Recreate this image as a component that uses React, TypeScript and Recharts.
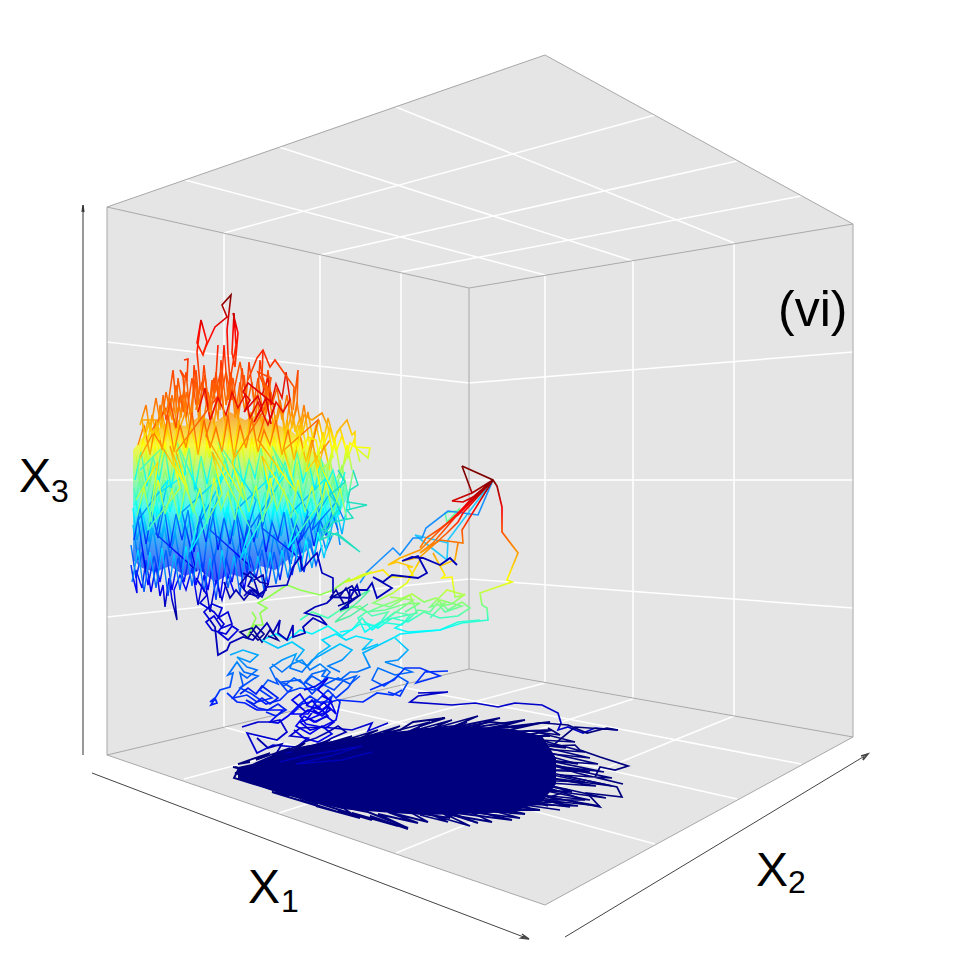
import React from "react";
import { ComposedChart, Area, Line, XAxis, YAxis } from "recharts";

const panelX = [107, 469, 545, 853];
const roofBand = [[207, 207], [81, 288], [55, 275], [224, 224]];
const leftWallBand = [[207, 755], [288, 669]];
const rightWallBand = [[288, 669], [275, 683], [224, 737]];
const floorBand = [[755, 755], [669, 879], [683, 905], [737, 737]];

const gridLines = [
  [224, 233, 224, 727], [320, 255, 320, 705], [401, 272, 401, 687],
  [545, 275, 545, 683], [633, 261, 633, 699], [734, 243, 734, 716],
  [107, 342, 469, 383], [107, 480, 469, 480], [107, 617, 469, 579],
  [469, 383, 853, 352], [469, 480, 853, 480], [469, 579, 853, 608],
  [185, 180, 545, 275], [279, 147, 633, 261], [396, 107, 734, 243],
  [224, 233, 655, 115], [320, 255, 737, 161], [401, 272, 801, 196],
  [224, 727, 655, 844], [320, 705, 737, 799], [401, 687, 801, 764],
  [184, 779, 545, 683], [279, 813, 633, 699], [396, 853, 734, 716],
];

const boxEdges = [
  [107, 207, 545, 55, 853, 224, 469, 288, 107, 207, 107, 755, 545, 905, 853, 737, 853, 224],
  [469, 288, 469, 669, 107, 755],
  [469, 669, 853, 737],
];

const axisX1 = [92, 773, 529, 939];
const axisX2 = [565, 937, 868, 754];
const axisX3 = [83, 755, 83, 205];
const headX1 = [522, 934, 529, 939, 521, 938, 525, 936];
const headX2 = [861, 756, 868, 754, 863, 760, 864, 757];
const headX3 = [82, 212, 83, 205, 84, 212, 83, 210];

const cloudX = [133, 142, 155, 170, 185, 200, 215, 230, 245, 260, 275, 290, 305, 320, 335, 348];
const cloudTop = [450, 438, 430, 422, 426, 416, 422, 412, 420, 414, 424, 430, 442, 458, 476, 492];
const cloudBottom = [560, 568, 572, 566, 576, 570, 582, 574, 578, 566, 570, 558, 552, 540, 522, 496];

const blobX = [238, 252, 270, 305, 342, 392, 425, 465, 512, 542, 556];
const blobTop = [767, 764, 756, 746, 741, 732, 729, 726, 729, 736, 758];
const blobBottom = [777, 783, 790, 800, 809, 813, 815, 814, 812, 802, 784];

const cloudPeakA = [203, 353, 215, 327, 227, 317, 222, 305, 231, 295, 227, 330, 228, 355, 230, 380, 226, 405];
const cloudPeakB = [233, 313, 238, 333, 235, 367, 232, 353, 234, 313, 236, 345, 231, 375, 229, 398];
const cloudPeakC = [201, 320, 207, 342, 203, 355, 197, 343, 201, 320, 197, 352, 200, 385, 196, 410];
const cloudPeakD = [184, 360, 188, 359, 187, 380, 180, 370, 183, 377, 186, 410, 181, 425];
const cloudPeakE = [218, 345, 215, 393, 212, 380, 209, 412, 221, 372, 224, 418];
const cloudPeakF = [248, 380, 257, 358, 263, 350, 270, 367, 275, 360, 294, 387, 293, 410, 298, 370, 297, 407, 290, 432];
const cloudPeakG = [263, 350, 262, 375, 268, 395, 258, 372, 271, 378, 265, 415];
const cloudPeakH = [160, 440, 156, 420, 142, 420, 145, 437, 149, 423, 153, 433, 160, 420, 163, 397, 165, 415, 168, 405, 173, 370, 177, 413, 182, 395, 188, 430];
const cloudPeakI = [270, 420, 275, 405, 248, 383, 243, 392, 250, 400, 244, 412, 258, 396, 262, 408, 254, 422, 266, 398, 271, 424];
const cloudPeakJ = [297, 450, 304, 415, 312, 420, 322, 413, 328, 427, 333, 457, 322, 470, 316, 440, 308, 437, 300, 460];
const cloudPeakK = [327, 470, 337, 432, 347, 420, 352, 435, 355, 432, 355, 447, 370, 448, 368, 458, 350, 443, 345, 462, 337, 478];

const cloudRows = [
  [140, 425, 146, 405, 150, 432, 156, 398, 161, 428, 166, 392, 172, 420, 176, 385, 181, 418, 186, 372, 190, 415, 195, 380, 199, 422, 204, 365, 209, 410, 213, 385, 218, 420, 221, 360, 226, 405, 231, 372, 235, 418, 240, 382, 245, 412, 249, 362, 254, 402, 258, 378, 263, 415, 268, 370, 272, 405, 277, 388, 282, 420, 287, 395, 292, 428, 297, 402, 302, 435, 308, 412, 313, 440, 319, 420, 324, 445, 330, 428, 336, 452, 342, 436, 348, 458, 354, 440, 360, 462],
  [352, 470, 347, 445, 341, 478, 335, 440, 329, 470, 323, 432, 317, 462, 311, 438, 305, 470, 299, 425, 293, 455, 287, 420, 281, 458, 275, 415, 269, 450, 263, 425, 257, 455, 251, 412, 245, 448, 239, 420, 233, 455, 227, 418, 221, 448, 215, 425, 209, 458, 203, 416, 197, 450, 191, 428, 185, 455, 179, 420, 173, 450, 167, 428, 161, 458, 155, 432, 149, 462, 143, 440, 137, 470],
  [136, 455, 141, 490, 146, 450, 150, 485, 155, 445, 160, 478, 165, 442, 170, 482, 176, 440, 181, 475, 186, 438, 192, 480, 197, 442, 203, 472, 208, 436, 214, 478, 219, 445, 225, 470, 230, 434, 236, 482, 241, 442, 247, 475, 252, 438, 258, 480, 263, 445, 269, 472, 274, 436, 280, 478, 285, 448, 291, 470, 296, 440, 302, 482, 307, 452, 313, 476, 318, 450, 324, 488, 330, 460, 336, 492, 342, 465, 348, 498, 353, 472],
  [350, 510, 345, 480, 339, 515, 333, 478, 327, 505, 321, 468, 315, 500, 309, 470, 303, 498, 297, 462, 291, 496, 285, 466, 279, 500, 273, 458, 267, 492, 261, 466, 255, 498, 249, 460, 243, 492, 237, 468, 231, 500, 225, 458, 219, 490, 213, 466, 207, 498, 201, 460, 195, 492, 189, 468, 183, 500, 177, 462, 171, 492, 165, 470, 159, 502, 153, 465, 147, 498, 141, 472, 135, 505],
  [134, 488, 139, 520, 144, 482, 149, 515, 154, 484, 159, 518, 165, 480, 170, 512, 176, 486, 181, 522, 187, 478, 192, 515, 198, 488, 204, 520, 209, 480, 215, 512, 220, 490, 226, 525, 231, 482, 237, 516, 243, 490, 248, 522, 254, 484, 260, 514, 265, 492, 271, 526, 276, 486, 282, 516, 288, 494, 294, 528, 299, 490, 305, 518, 311, 498, 317, 530, 323, 496, 329, 524, 335, 504, 342, 534, 348, 500],
  [340, 545, 335, 512, 329, 540, 323, 508, 317, 542, 311, 512, 305, 538, 299, 505, 293, 544, 287, 510, 281, 536, 275, 504, 269, 542, 263, 512, 257, 538, 251, 502, 245, 544, 239, 510, 233, 536, 227, 506, 221, 542, 215, 512, 209, 538, 203, 504, 197, 545, 191, 514, 185, 538, 179, 508, 173, 544, 167, 512, 161, 538, 155, 506, 149, 542, 143, 514, 137, 540, 133, 508],
  [133, 525, 138, 560, 143, 522, 148, 555, 153, 528, 159, 566, 164, 525, 170, 556, 175, 532, 181, 568, 186, 528, 192, 558, 197, 534, 203, 572, 208, 528, 214, 560, 219, 536, 225, 570, 230, 530, 236, 558, 241, 538, 247, 572, 252, 532, 258, 556, 263, 540, 269, 566, 274, 534, 280, 554, 285, 542, 291, 564, 296, 530, 302, 552, 308, 538, 314, 558, 320, 528, 326, 550, 332, 536],
  [322, 545, 316, 565, 310, 540, 304, 572, 298, 548, 292, 575, 286, 545, 280, 580, 274, 552, 268, 585, 262, 550, 256, 578, 250, 556, 244, 590, 238, 552, 232, 582, 226, 558, 220, 598, 214, 555, 208, 590, 202, 562, 196, 585, 190, 552, 184, 582, 178, 558, 172, 590, 166, 550, 160, 582, 154, 556, 148, 585, 142, 552, 136, 578, 131, 545],
  [131, 565, 133, 577, 137, 593, 136, 570, 142, 588, 146, 560, 151, 592, 156, 565, 160, 596, 163, 585, 165, 607, 169, 578, 172, 600, 177, 620, 174, 590, 180, 575, 186, 590, 192, 568, 198, 605, 204, 575, 210, 612, 216, 580, 222, 600, 228, 575, 234, 592],
  [148, 440, 152, 415, 157, 438, 160, 405, 166, 430, 170, 398, 175, 430, 178, 378, 183, 412, 187, 392, 192, 425, 194, 365, 199, 405, 205, 375, 210, 420, 216, 372, 220, 410, 224, 345, 228, 400, 233, 378, 238, 415, 242, 368, 247, 405, 252, 382, 256, 420, 260, 360, 266, 410, 271, 392, 276, 425, 281, 405, 285, 438, 290, 398, 295, 432, 300, 418, 306, 445],
  [345, 445, 340, 428, 334, 440, 328, 418, 322, 450, 316, 425, 310, 448, 304, 405, 298, 440, 292, 412, 286, 435, 280, 400, 274, 432, 268, 385, 262, 425, 256, 395, 250, 428, 244, 375, 238, 420, 232, 388, 226, 430, 220, 378, 214, 425, 208, 392, 202, 432, 196, 370, 190, 428, 184, 388, 178, 432, 172, 395, 166, 438, 160, 412, 154, 442, 148, 420, 142, 445],
];

// same kind of strokes, coloured a little off their height
const cloudMixHigh = [
  [135, 480, 141, 452, 147, 486, 153, 456, 159, 482, 165, 450, 171, 488, 177, 454, 183, 480, 189, 448, 195, 490, 201, 456, 207, 484, 213, 452, 219, 488, 225, 458, 231, 482, 237, 450, 243, 486, 249, 460, 255, 478, 261, 448, 267, 490, 273, 456, 279, 480, 285, 462, 291, 488, 297, 452, 303, 482, 309, 464, 315, 490, 321, 458, 327, 484, 333, 470, 339, 492, 345, 472],
  [134, 540, 140, 508, 146, 544, 152, 512, 158, 538, 164, 506, 170, 548, 176, 514, 182, 540, 188, 510, 194, 552, 200, 516, 206, 542, 212, 508, 218, 550, 224, 518, 230, 544, 236, 512, 242, 556, 248, 520, 254, 542, 260, 514, 266, 552, 272, 522, 278, 540, 284, 512, 290, 550, 296, 524, 302, 538, 308, 516, 314, 546, 320, 520, 326, 535, 332, 512, 338, 530],
  [140, 470, 162, 448, 152, 498, 186, 474, 176, 440, 204, 505, 196, 530, 228, 468, 218, 442, 256, 500, 246, 535, 284, 476, 272, 446, 308, 512, 298, 544, 332, 490, 320, 466, 344, 520],
  [338, 500, 312, 530, 326, 478, 290, 514, 302, 560, 262, 528, 276, 472, 236, 510, 250, 566, 210, 530, 222, 476, 182, 512, 196, 570, 156, 534, 168, 480, 138, 520, 146, 572],
];
const cloudMixLow = [
  [347, 520, 340, 488, 333, 515, 326, 482, 319, 520, 312, 486, 305, 512, 298, 480, 291, 518, 284, 490, 277, 510, 270, 478, 263, 522, 256, 486, 249, 512, 242, 482, 235, 520, 228, 492, 221, 510, 214, 478, 207, 524, 200, 488, 193, 512, 186, 484, 179, 520, 172, 490, 165, 514, 158, 480, 151, 522, 144, 488, 137, 516],
  [330, 530, 324, 558, 318, 532, 312, 568, 306, 540, 300, 572, 294, 544, 288, 578, 282, 550, 276, 584, 270, 552, 264, 590, 258, 556, 252, 582, 246, 548, 240, 594, 234, 556, 228, 588, 222, 550, 216, 600, 210, 558, 204, 592, 198, 552, 192, 586, 186, 546, 180, 590, 174, 554, 168, 596, 162, 548, 156, 588, 150, 552, 144, 592, 138, 550, 132, 582],
  [138, 445, 144, 425, 150, 455, 156, 420, 162, 450, 168, 415, 174, 452, 180, 425, 186, 448, 192, 412, 198, 455, 204, 420, 210, 448, 216, 428, 222, 452, 228, 415, 234, 458, 240, 425, 246, 448, 252, 418, 258, 452, 264, 430, 270, 445, 276, 420, 282, 455, 288, 430, 294, 460, 300, 435, 306, 462, 312, 440, 318, 468, 324, 446, 330, 470],
  [136, 500, 158, 462, 148, 530, 180, 488, 170, 446, 198, 520, 190, 552, 222, 494, 212, 452, 250, 528, 240, 560, 272, 500, 262, 456, 298, 516, 288, 548, 322, 500, 314, 452, 340, 506],
  [330, 440, 306, 472, 318, 420, 284, 450, 296, 492, 258, 440, 270, 400, 232, 462, 244, 500, 206, 436, 218, 396, 176, 452, 188, 490, 152, 430, 166, 408, 140, 458],
];
const cloudHotA = [262, 395, 268, 378, 271, 405, 276, 384, 282, 398, 286, 372, 290, 400, 283, 412, 276, 402, 268, 425, 258, 402, 250, 418, 245, 395, 238, 408, 232, 392, 226, 415, 218, 398, 210, 420, 205, 388, 198, 412];
const cloudHotB = [163, 395, 166, 420, 170, 402, 176, 428, 180, 396, 186, 418, 192, 378, 196, 405, 202, 382, 208, 410, 214, 378, 220, 402, 226, 372, 232, 400, 240, 362, 246, 396];

const cloudLooseRight = [353, 470, 358, 485, 350, 490, 347, 502, 367, 505, 347, 510, 353, 518, 333, 522, 320, 540, 337, 533, 360, 552, 337, 535, 322, 530, 340, 508, 330, 495, 345, 482, 338, 470];

const deepTangleA = [210, 620, 204, 612, 212, 604, 222, 608, 218, 618, 228, 612, 232, 624, 222, 628, 214, 616, 206, 622, 212, 630, 226, 634, 232, 626, 238, 630, 228, 640, 218, 632, 224, 624, 214, 612, 200, 603, 207, 595, 196, 578];
const deepTangleB = [243, 573, 252, 578, 248, 586, 258, 592, 254, 580, 263, 575, 266, 590, 256, 596, 246, 592, 240, 584, 250, 572, 260, 582, 268, 584, 262, 597, 252, 590, 244, 600, 236, 590, 230, 598, 224, 582];

const darkTrail = [457, 565, 450, 558, 440, 565, 423, 558, 412, 557, 402, 561, 418, 556, 427, 573, 418, 578, 392, 575, 383, 582, 373, 577, 392, 588, 377, 598, 372, 583, 367, 590, 350, 590, 348, 607, 340, 610, 360, 595, 357, 585, 350, 598, 333, 597, 327, 603, 315, 607, 305, 613, 320, 617, 327, 625, 313, 618, 303, 627, 305, 633, 293, 637, 293, 625, 287, 640, 278, 633, 280, 620, 273, 633, 267, 623, 253, 640, 243, 637, 230, 643, 227, 650, 218, 655, 215, 627, 210, 620];
const darkKnotA = [340, 596, 346, 588, 352, 600, 344, 604, 336, 590, 330, 598, 342, 592, 352, 586, 358, 596, 348, 602, 338, 606];
const darkKnotB = [250, 632, 258, 640, 264, 634, 256, 626, 248, 638, 240, 632, 252, 628, 262, 642, 270, 630, 278, 640, 268, 636];
const blueClimb = [333, 593, 333, 578, 322, 573, 317, 553, 312, 558, 302, 570, 300, 557, 293, 567, 287, 585, 267, 587, 258, 598, 250, 590, 244, 596];

const greenTrail = [350, 578, 333, 590, 320, 595, 300, 590, 287, 585, 267, 598, 258, 603, 267, 608, 260, 613, 263, 625, 254, 625, 247, 637, 256, 618, 252, 612];
const yellowStub = [350, 581, 362, 575, 372, 572, 358, 578, 345, 582];
const greenRight = [345, 605, 355, 598, 370, 590, 358, 602, 346, 612, 335, 622, 350, 616, 368, 604];

const branchMain = [462, 466, 493, 480, 497, 486, 502, 507, 502, 532, 518, 553, 507, 580, 512, 582, 480, 593, 482, 605, 487, 608, 488, 620, 462, 623, 440, 630, 400, 634, 395, 637, 373, 648, 363, 653, 370, 667, 357, 672, 350, 672, 340, 680, 322, 676, 326, 670, 312, 674, 305, 682, 318, 690];
const branchRedA = [462, 466, 472, 493, 493, 480, 472, 493, 452, 501, 463, 502, 473, 497, 493, 480, 463, 513, 458, 522, 447, 533, 420, 557, 403, 561];
const branchRedB = [493, 480, 462, 530, 463, 543, 440, 540, 420, 553, 433, 543, 470, 500, 493, 480, 458, 515, 441, 528, 426, 538, 420, 548];
const branchOrange = [458, 543, 455, 560, 440, 566, 433, 553, 445, 575, 442, 578, 452, 577, 455, 597, 465, 595, 447, 590, 430, 607, 445, 603, 430, 618];
const branchYellow = [420, 560, 407, 583, 393, 593, 373, 603, 390, 607, 410, 595, 417, 613, 385, 620, 413, 600, 390, 597];
const branchOrangeLeft = [493, 480, 440, 530, 420, 550, 400, 558, 388, 565, 397, 562, 413, 567, 408, 567, 413, 575, 407, 577, 390, 577, 383, 570, 375, 572, 362, 575];
const branchLightBlue = [493, 480, 478, 515, 448, 511, 426, 528, 422, 538, 413, 538, 400, 555, 393, 548, 367, 572, 360, 583];
const branchCyan = [493, 480, 448, 540, 447, 560, 415, 535, 448, 543];
const branchGreen = [493, 480, 462, 510, 445, 513, 447, 522, 460, 508];

const branchTealA = [340, 632, 352, 630, 362, 618, 372, 630, 385, 620, 395, 612, 410, 615, 402, 625, 380, 622, 365, 632, 358, 618, 366, 612, 385, 610, 405, 604, 420, 603, 405, 612];
const branchTealB = [465, 594, 452, 604, 440, 606, 445, 612, 462, 606, 440, 600, 430, 612, 418, 610, 408, 620, 395, 628, 408, 632, 440, 630, 458, 622, 480, 620];
const branchTealC = [300, 620, 312, 612, 328, 618, 340, 610, 360, 606, 372, 616, 388, 612, 378, 626, 360, 624, 342, 636, 328, 626, 312, 634, 300, 630, 288, 640, 276, 634, 262, 640];
const branchTealD = [340, 612, 352, 606, 368, 612, 382, 606, 398, 600, 412, 594, 424, 602, 436, 598, 448, 610, 462, 602, 470, 608, 458, 616, 440, 618, 424, 612, 408, 622, 392, 618, 378, 628, 364, 622];

const branchSkyA = [230, 655, 243, 650, 258, 655, 250, 662, 237, 657, 247, 667, 257, 670, 247, 678, 240, 673, 243, 685, 233, 698, 247, 695, 257, 702, 272, 698, 260, 690, 268, 680, 278, 684, 270, 668, 282, 660, 296, 654, 290, 668, 302, 672, 312, 660, 326, 652, 340, 644, 352, 650, 342, 660, 328, 666, 340, 672];
const branchSkyB = [395, 638, 408, 650, 398, 660, 385, 662, 402, 668, 412, 672, 395, 675, 378, 668, 372, 680, 384, 686, 398, 676, 408, 682, 400, 696, 388, 692];
const branchSkyC = [262, 640, 278, 648, 292, 642, 304, 650, 296, 660, 308, 666, 318, 654, 330, 646, 322, 640, 336, 634, 346, 640, 356, 636, 372, 640, 362, 650, 378, 644];
const branchSkyD = [272, 664, 282, 672, 292, 664, 302, 660, 310, 670, 320, 664, 330, 672, 322, 682, 312, 676, 304, 684, 294, 678, 284, 686, 276, 678, 288, 692, 300, 688, 314, 690, 326, 684, 338, 678, 350, 684, 360, 676];
const branchBlueA = [210, 702, 215, 698, 217, 703, 211, 705, 220, 690, 230, 687, 233, 673, 228, 675, 237, 662, 244, 672, 258, 676, 240, 688, 252, 694, 266, 704, 280, 700, 292, 688, 282, 682, 300, 680, 312, 694, 322, 684, 334, 690, 344, 680, 356, 676, 348, 688, 336, 698, 328, 690, 318, 700, 302, 704, 292, 714, 308, 714, 316, 702, 330, 702, 338, 700];
const branchBlueB = [227, 693, 237, 702, 245, 703, 257, 710, 267, 710, 283, 710, 270, 722, 278, 723, 288, 716, 300, 704, 310, 696, 322, 704, 332, 696, 326, 712, 312, 718, 300, 722, 310, 730, 322, 727, 336, 720, 340, 702, 338, 700, 363, 702, 377, 693, 393, 695, 402, 690];
const branchBlueC = [304, 690, 316, 686, 328, 678, 318, 690, 332, 702, 322, 710, 308, 706, 300, 694, 292, 700, 306, 712, 318, 706, 328, 716, 314, 722, 304, 716, 296, 726, 310, 734, 322, 726, 332, 734, 318, 742, 304, 738, 294, 730];
const blueKnotA = [306, 706, 312, 700, 318, 708, 324, 702, 330, 710, 322, 716, 314, 710, 308, 718, 316, 722, 326, 716, 334, 722, 326, 728, 316, 726, 306, 724, 300, 716, 308, 710, 318, 714, 328, 706, 336, 714, 330, 700, 322, 696];
const blueKnotB = [240, 694, 248, 688, 256, 694, 262, 686, 270, 692, 278, 698, 270, 704, 262, 698, 254, 704, 246, 700, 258, 708, 268, 710, 278, 704, 286, 710, 276, 716, 266, 712];
const topRightBlue = [418, 693, 448, 692, 418, 696, 410, 702, 452, 705, 475, 703, 498, 707, 515, 703, 542, 705, 558, 713, 561, 723, 558, 730, 568, 727, 583, 733, 595, 728, 618, 730];
const topRightRun = [448, 671, 425, 672, 416, 683, 440, 676, 420, 668, 405, 668, 394, 680, 370, 690];
const lowBlueA = [242, 727, 258, 722, 270, 722, 280, 720, 287, 732, 277, 740, 247, 733, 257, 753, 273, 745, 297, 747, 308, 738, 290, 736, 300, 728, 322, 727, 352, 730, 372, 723, 368, 731, 388, 723];
const lowBlueB = [257, 738, 268, 748, 282, 744, 276, 754, 292, 752, 304, 742, 316, 738, 328, 732, 338, 726, 346, 732, 332, 738, 318, 746];

const blobEdgeLow = [233, 767, 262, 772, 238, 770, 234, 778, 290, 795, 270, 788, 318, 804, 300, 797, 352, 814, 342, 807, 368, 812, 408, 828, 378, 814, 418, 823, 388, 812, 428, 822, 410, 812, 450, 818, 438, 810, 478, 823, 448, 812, 512, 820, 470, 810, 525, 814, 492, 806, 530, 808];
const blobEdgeTop = [268, 760, 290, 750, 310, 746, 344, 740, 360, 738, 400, 730, 413, 722, 445, 718, 420, 726, 416, 730, 455, 726, 467, 722, 448, 730, 490, 722, 510, 724, 478, 730, 530, 725, 540, 723, 500, 732, 552, 730, 522, 736, 550, 736];
const blobEdgeRight = [543, 723, 568, 725, 587, 733, 607, 728, 618, 730, 575, 727, 552, 746, 575, 745, 580, 750, 600, 757, 628, 766, 615, 770, 600, 767, 595, 777, 623, 784, 577, 773, 555, 766, 612, 778, 560, 775, 617, 787, 622, 797, 587, 793, 600, 807, 550, 797, 570, 790, 540, 785, 585, 800, 545, 800, 570, 807, 528, 802];
const blobFanRightA = [520, 738, 566, 748, 530, 744, 590, 758, 534, 752, 578, 764, 536, 758, 604, 772, 540, 764, 590, 772, 538, 770, 612, 786, 536, 776, 596, 786, 534, 782, 606, 798, 532, 788, 590, 800, 530, 794, 600, 806, 524, 798, 578, 806, 518, 804, 560, 810];
const blobFanRightB = [548, 728, 560, 735, 536, 732, 575, 742, 540, 740, 585, 752, 528, 748, 598, 764, 536, 760, 575, 770, 530, 770, 585, 782, 528, 780, 572, 792, 524, 788, 558, 800, 516, 796, 548, 806];
const blobFanLeft = [235, 767, 248, 772, 235, 773, 262, 781, 238, 778, 280, 790, 256, 784, 296, 796, 272, 792, 318, 806, 300, 800, 338, 812, 316, 806, 360, 818, 338, 810, 372, 820, 352, 813, 398, 826, 370, 816, 408, 829];
const blobFanTop = [250, 762, 238, 764, 270, 753, 256, 760, 290, 748, 272, 756, 305, 743, 292, 752, 330, 740, 312, 748, 352, 736, 332, 744, 378, 730, 356, 740, 400, 726, 380, 735, 430, 722, 405, 733, 452, 720, 428, 730, 478, 716, 450, 728, 500, 718, 470, 728, 525, 720, 495, 728, 550, 722];
const blobFanBottom = [420, 815, 448, 822, 432, 815, 470, 826, 445, 814, 492, 822, 470, 812, 520, 818, 490, 810, 540, 810, 515, 806, 552, 802];
const blobStreak = [280, 762, 308, 755, 340, 750, 362, 746, 330, 756, 296, 764, 342, 760, 372, 752];

const toPoints = (flat: number[]) => {
  const rows: { x: number; y: number }[] = [];
  for (let i = 0; i < flat.length; i += 2) rows.push({ x: flat[i], y: flat[i + 1] });
  return rows;
};

const panelRows = panelX.map((x, i) => ({
  x,
  roof: roofBand[i],
  left: leftWallBand[i],
  right: i === 0 ? undefined : rightWallBand[i - 1],
  floor: floorBand[i],
}));
const cloudRowsData = cloudX.map((x, i) => ({ x, band: [cloudTop[i], cloudBottom[i]] }));
const blobRowsData = blobX.map((x, i) => ({ x, band: [blobTop[i], blobBottom[i]] }));

const CLOUD = "url(#cloudJet)";
const CLOUD_HIGH = "url(#cloudJetHigh)";
const CLOUD_LOW = "url(#cloudJetLow)";
const BRANCH = "url(#branchJet)";
const NAVY = "#00007f";

type Series = [number[], string, number];

// series in drawing order: points, stroke, width
const trajectories: Series[] = [
  ...cloudRows.map((r) => [r, CLOUD, 1.5] as Series),
  ...cloudMixHigh.map((r) => [r, CLOUD_HIGH, 1.4] as Series),
  ...cloudMixLow.map((r) => [r, CLOUD_LOW, 1.4] as Series),
  [cloudHotB, "#ff5000", 1.5], [cloudHotA, "#e81000", 1.5],
  [cloudPeakA, CLOUD, 1.6], [cloudPeakB, CLOUD, 1.6], [cloudPeakC, CLOUD, 1.6], [cloudPeakD, CLOUD, 1.6],
  [cloudPeakE, CLOUD, 1.6], [cloudPeakF, CLOUD, 1.6], [cloudPeakG, CLOUD, 1.6], [cloudPeakH, CLOUD, 1.6],
  [cloudPeakI, "#e00000", 1.6], [cloudPeakJ, CLOUD, 1.6], [cloudPeakK, CLOUD, 1.6],
  [cloudLooseRight, "#20e0c0", 1.5],
  [deepTangleA, "#0000d8", 1.7], [deepTangleB, "#0000b0", 1.7],
  [branchTealD, BRANCH, 1.6], [branchTealA, BRANCH, 1.6], [branchTealB, BRANCH, 1.6], [branchTealC, BRANCH, 1.6],
  [branchGreen, "#60ffa0", 1.5], [branchCyan, "#20c8ff", 1.6], [branchLightBlue, "#1890ff", 1.6],
  [branchYellow, BRANCH, 1.6], [branchOrange, BRANCH, 1.6], [branchOrangeLeft, BRANCH, 1.6],
  [branchRedB, BRANCH, 1.6], [branchRedA, BRANCH, 1.6], [branchMain, BRANCH, 1.7],
  [greenRight, "#50f0a0", 1.5], [greenTrail, "#90ff50", 1.6], [yellowStub, "#d8ff20", 1.9],
  [blueClimb, "#0000c0", 1.7], [darkTrail, "#0000b8", 1.8], [darkKnotA, "#0000a0", 1.7], [darkKnotB, "#000090", 1.7],
  [branchSkyD, BRANCH, 1.6], [branchSkyC, BRANCH, 1.6], [branchSkyA, BRANCH, 1.6], [branchSkyB, BRANCH, 1.6],
  [branchBlueA, BRANCH, 1.7], [branchBlueB, BRANCH, 1.7], [branchBlueC, "#0000ee", 1.7],
  [blueKnotA, "#0000e8", 1.7], [blueKnotB, "#0020f0", 1.7],
  [topRightRun, "#0030ff", 1.6], [topRightBlue, "#0000c8", 1.7],
  [lowBlueA, "#0000d0", 1.7], [lowBlueB, "#0000b0", 1.7],
  [blobEdgeLow, NAVY, 1.9], [blobEdgeTop, NAVY, 1.9], [blobEdgeRight, NAVY, 1.7],
  [blobFanRightA, NAVY, 1.7], [blobFanRightB, NAVY, 1.7], [blobFanLeft, NAVY, 1.9], [blobFanTop, NAVY, 1.8], [blobFanBottom, NAVY, 1.8],
  [blobStreak, "#0000b8", 1.3],
];

const seg = (i: number, flat: number[], stroke: string, width: number) => (
  <Line
    key={i}
    data={toPoints(flat)}
    dataKey="y"
    type="linear"
    stroke={stroke}
    strokeWidth={width}
    dot={false}
    activeDot={false}
    legendType="none"
    isAnimationActive={false}
  />
);

const labelStyle = { fontFamily: "Liberation Sans, Arial, sans-serif", fill: "#000" };

function jetStops(offsets: number[]) {
  const colors = ["#800000", "#ff0000", "#ff8000", "#ffff00", "#80ff80", "#00ffff", "#0080ff", "#0000ff", "#000080"];
  return colors.map((c, i) => <stop key={c} offset={offsets[i]} stopColor={c} />);
}
const cloudOffsets = [0, 0.106, 0.348, 0.455, 0.555, 0.652, 0.758, 0.879, 1];
const branchOffsets = [0, 0.103, 0.224, 0.338, 0.431, 0.517, 0.638, 0.81, 1];

export default function App() {
  return (
    <div style={{ position: "absolute", left: 0, top: 0, width: 960, height: 960 }}>
      <ComposedChart width={960} height={960} data={panelRows} margin={{ top: 0, right: 0, bottom: 0, left: 0 }}>
        <defs>
          <linearGradient id="cloudJet" gradientUnits="userSpaceOnUse" x1="0" y1="295" x2="0" y2="625">{jetStops(cloudOffsets)}</linearGradient>
          <linearGradient id="cloudJetHigh" gradientUnits="userSpaceOnUse" x1="0" y1="265" x2="0" y2="595">{jetStops(cloudOffsets)}</linearGradient>
          <linearGradient id="cloudJetLow" gradientUnits="userSpaceOnUse" x1="0" y1="325" x2="0" y2="655">{jetStops(cloudOffsets)}</linearGradient>
          <linearGradient id="branchJet" gradientUnits="userSpaceOnUse" x1="0" y1="480" x2="0" y2="770">{jetStops(branchOffsets)}</linearGradient>
        </defs>
        <XAxis type="number" dataKey="x" domain={[0, 960]} hide />
        <YAxis type="number" domain={[0, 960]} reversed hide />

        <Area dataKey="roof" type="linear" stroke="none" fill="#e5e5e5" fillOpacity={1} dot={false} activeDot={false} isAnimationActive={false} />
        <Area dataKey="left" type="linear" stroke="none" fill="#e5e5e5" fillOpacity={1} dot={false} activeDot={false} isAnimationActive={false} />
        <Area dataKey="right" type="linear" stroke="none" fill="#e5e5e5" fillOpacity={1} dot={false} activeDot={false} isAnimationActive={false} />
        <Area dataKey="floor" type="linear" stroke="none" fill="#e5e5e5" fillOpacity={1} dot={false} activeDot={false} isAnimationActive={false} />

        {gridLines.map((g, i) => seg(1000 + i, g, "#ffffff", 1.5))}
        {boxEdges.map((g, i) => seg(2000 + i, g, "#a8a8a8", 1))}
        {seg(3001, axisX1, "#444444", 1)}
        {seg(3002, axisX2, "#444444", 1)}
        {seg(3003, axisX3, "#333333", 1)}
        {seg(3004, headX1, "#444444", 1.5)}
        {seg(3005, headX2, "#444444", 1.5)}
        {seg(3006, headX3, "#333333", 1.2)}

        <Area data={cloudRowsData} dataKey="band" type="linear" stroke="none" fill={CLOUD} fillOpacity={0.7} dot={false} activeDot={false} isAnimationActive={false} zIndex={450} />
        <Area data={blobRowsData} dataKey="band" type="linear" stroke="none" fill={NAVY} fillOpacity={1} dot={false} activeDot={false} isAnimationActive={false} zIndex={450} />

        {trajectories.map(([flat, stroke, width], i) => (
          <Line
            key={i}
            data={toPoints(flat)}
            dataKey="y"
            type="linear"
            stroke={stroke}
            strokeWidth={width}
            dot={false}
            activeDot={false}
            legendType="none"
            isAnimationActive={false}
            zIndex={500}
          />
        ))}
      </ComposedChart>
      <svg width={960} height={960} style={{ position: "absolute", left: 0, top: 0, pointerEvents: "none" }}>
        <text x={248} y={903} fontSize={48} style={labelStyle}>X</text>
        <text x={281} y={912} fontSize={32} style={labelStyle}>1</text>
        <text x={756} y={886} fontSize={48} style={labelStyle}>X</text>
        <text x={788} y={893} fontSize={32} style={labelStyle}>2</text>
        <text x={19} y={492} fontSize={48} style={labelStyle}>X</text>
        <text x={51} y={502} fontSize={32} style={labelStyle}>3</text>
        <text x={778} y={326} fontSize={50} style={labelStyle}>(vi)</text>
      </svg>
    </div>
  );
}
